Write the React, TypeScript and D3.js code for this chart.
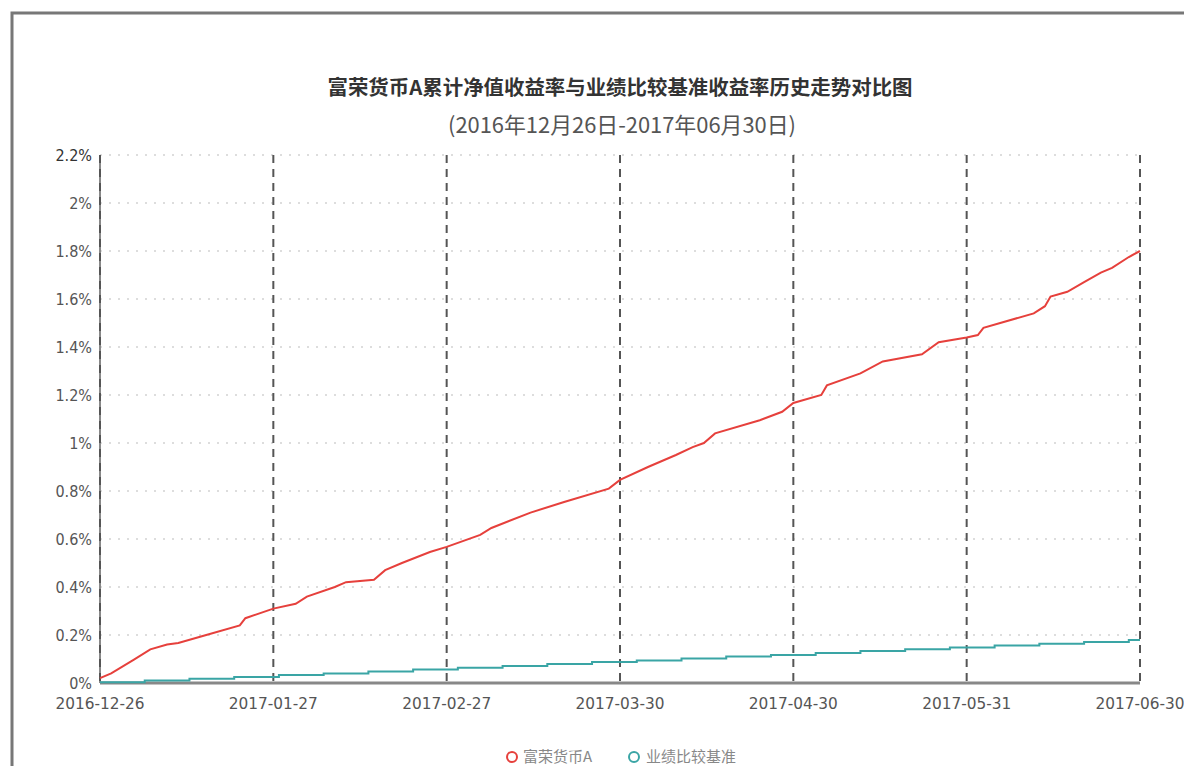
import * as d3 from 'd3';

// category axis: day positions 0..186 between 2016-12-26 and 2017-06-30
const xLabels = ['2016-12-26', '2017-01-27', '2017-02-27', '2017-03-30', '2017-04-30', '2017-05-31', '2017-06-30'];
const xLabelDay = [0, 31, 62, 93, 124, 155, 186];
const yTicks = [0, 0.2, 0.4, 0.6, 0.8, 1, 1.2, 1.4, 1.6, 1.8, 2, 2.2];

// 富荣货币A (%)
const fundDay = [0, 2, 6, 9, 12, 14, 19, 25, 26, 31, 35, 37, 42, 44, 49, 51, 54, 59, 62, 68, 70, 77, 83, 91, 93, 98, 103, 106, 108, 110, 118, 122, 124, 129, 130, 136, 140, 147, 150, 155, 157, 158, 161, 167, 169, 170, 173, 176, 179, 181, 184, 186];
const fundValue = [0.02, 0.04, 0.096, 0.14, 0.16, 0.167, 0.2, 0.24, 0.27, 0.31, 0.33, 0.36, 0.4, 0.42, 0.43, 0.47, 0.5, 0.546, 0.567, 0.617, 0.646, 0.71, 0.754, 0.81, 0.846, 0.9, 0.95, 0.983, 1.0, 1.04, 1.095, 1.13, 1.167, 1.2, 1.24, 1.29, 1.34, 1.37, 1.42, 1.44, 1.45, 1.48, 1.5, 1.54, 1.57, 1.61, 1.63, 1.67, 1.71, 1.73, 1.775, 1.8];

// 业绩比较基准 (%)
const benchDay = [0, 8, 16, 24, 32, 40, 48, 56, 64, 72, 80, 88, 96, 104, 112, 120, 128, 136, 144, 152, 160, 168, 176, 184, 186];
const benchValue = [0.003, 0.01, 0.018, 0.025, 0.033, 0.04, 0.048, 0.056, 0.064, 0.071, 0.079, 0.087, 0.094, 0.102, 0.11, 0.117, 0.125, 0.133, 0.141, 0.148, 0.156, 0.164, 0.171, 0.179, 0.179];

const App = () => {
  const width = 1184;
  const height = 766;
  const left = 100;
  const right = 1140;
  const top = 155;
  const bottom = 683;

  const x = d3.scaleLinear().domain([0, 186]).range([left, right]);
  const y = d3.scaleLinear().domain([0, 2.2]).range([bottom, top]);

  const fundLine = d3
    .line<number>()
    .x((d, i) => x(fundDay[i]))
    .y((d) => y(d));

  const benchLine = d3
    .line<number>()
    .x((d, i) => x(benchDay[i]))
    .y((d) => y(d))
    .curve(d3.curveStepAfter);

  const fmt = (v) => `${+v.toFixed(1)}%`;

  return (
    <svg width={width} height={height} style={{ position: 'absolute', left: 0, top: 0, background: '#fff' }}>
      <rect x={12} y={13} width={1200} height={800} fill="none" stroke="#777" strokeWidth={3} />

      <text x={620} y={95} textAnchor="middle" fontFamily="Noto Sans CJK SC" fontSize={20} fontWeight="bold" fill="#333" textLength={585} lengthAdjust="spacingAndGlyphs">
        富荣货币A累计净值收益率与业绩比较基准收益率历史走势对比图
      </text>
      <text x={622} y={133} textAnchor="middle" fontFamily="Noto Sans CJK SC" fontSize={22} fill="#555" textLength={348} lengthAdjust="spacingAndGlyphs">
        (2016年12月26日-2017年06月30日)
      </text>

      {yTicks.map((t) => (
        <g key={t}>
          {t > 0 && (
            <line x1={left} x2={right} y1={y(t)} y2={y(t)} stroke="#bbb" strokeWidth={1} strokeDasharray="2,7" />
          )}
          <text x={92} y={y(t)} dy="0.35em" textAnchor="end" fontFamily="DejaVu Sans Condensed, DejaVu Sans" fontSize={16} fill={t === 2.2 ? '#333' : '#555'}>
            {fmt(t)}
          </text>
        </g>
      ))}

      <line x1={left} x2={left} y1={top} y2={bottom} stroke="#888" strokeWidth={2} />
      <line x1={left} x2={right} y1={bottom} y2={bottom} stroke="#888" strokeWidth={3} />

      {xLabelDay.map((d, i) => (
        <g key={d}>
          <line x1={x(d)} x2={x(d)} y1={top} y2={bottom} stroke="#555" strokeWidth={2} strokeDasharray="8,6" />
          <text x={x(d)} y={709} textAnchor="middle" fontFamily="DejaVu Sans Condensed, DejaVu Sans" fontSize={16} fill="#555" textLength={89} lengthAdjust="spacingAndGlyphs">
            {xLabels[i]}
          </text>
        </g>
      ))}

      <path d={benchLine(benchValue)} fill="none" stroke="#3aa5a5" strokeWidth={2} />
      <path d={fundLine(fundValue)} fill="none" stroke="#e6403c" strokeWidth={2} />

      <g fontFamily="Noto Sans CJK SC" fontSize={15} fill="#888">
        <circle cx={512} cy={757} r={5} fill="#fff" stroke="#e6403c" strokeWidth={2} />
        <text x={523} y={757} dy="0.35em">富荣货币A</text>
        <circle cx={634} cy={757} r={5} fill="#fff" stroke="#3aa5a5" strokeWidth={2} />
        <text x={646} y={757} dy="0.35em">业绩比较基准</text>
      </g>
    </svg>
  );
};

export default App;
